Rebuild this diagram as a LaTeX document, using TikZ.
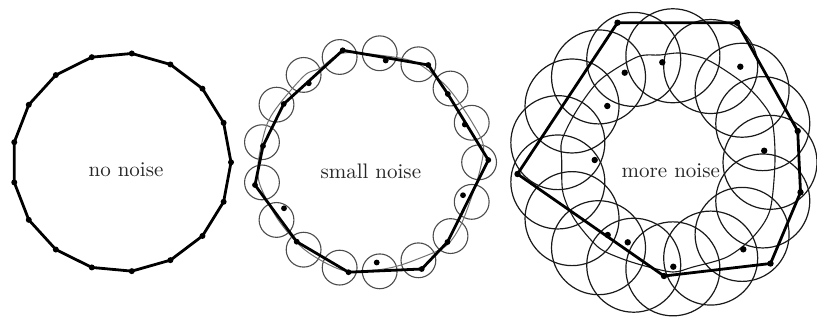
\documentclass[tikz,border=0pt]{standalone}
\usepackage{tikz}
\usetikzlibrary{calc}
\tikzset{
  % Sample polygon (hull) and the sample points.
  hull/.style={draw=black, line width=1.4pt, line join=round},
  sample/.style={fill=black},
  % Balls around the true points.
  ball-small/.style={draw=black!70, line width=0.55pt},
  ball-big/.style={draw=black!90, line width=0.6pt},
  % Underlying curve.
  truecurve/.style={draw=black!55, line width=0.5pt},
  truecurve-dark/.style={draw=black!90, line width=0.55pt},
  panel-label/.style={font=\fontsize{10.5}{12}\selectfont, text=black!85},
}

\begin{document}
\begin{tikzpicture}[x=0.5pt, y=-0.5pt]
  \useasboundingbox (0,0) rectangle (817,322);

  % --- no noise: regular 17-gon
  \foreach \k [evaluate=\k as \ang using 360*(\k-1)/17] in {1,...,17}
    \coordinate (a\k) at ([shift={(121.7,162.3)}]\ang:109.3);
  \draw[hull] (a1) \foreach \k in {2,...,17}{ -- (a\k)} -- cycle;
  \foreach \k in {1,...,17}
    \fill[sample] (a\k) circle (1.5pt);
  \node[panel-label] (lblA) at (126,170) {no noise};

  % --- small noise
  \foreach \k [evaluate=\k as \ang using 360*(\k-1)/17] in {1,...,17}
    \draw[ball-small] ([shift={(369.6,162.3)}]\ang:109.5) circle (8.7pt);
  \draw[truecurve] plot[smooth cycle] coordinates {
    (258.3,161.7) (266.7,125) (280,103.3) (305,75) (320,68.3) (341.7,53.3)
    (378.3,55) (415,62) (441.7,81.7) (455,96.7) (471.7,121.7) (483.3,145)
    (480,170) (471.7,196.7) (460,226.7) (445,246.7) (415,260) (395,266.7)
    (375,270) (341.7,270) (305,250) (278.3,220) (260,185)};
  \foreach \x/\y [count=\k] in {342.7/50.3, 385.7/60.5, 428.3/65, 447.8/94,
      464.8/124.5, 488.3/160, 463/195.2, 447.5/242, 421.7/269, 376.7/262.5,
      348.5/272.2, 296.7/241.7, 284/208.3, 255/185, 263/146, 283.7/104,
      308.8/83.3}
    \coordinate (s\k) at (\x,\y);
  \draw[hull] (s1) -- (s3) -- (s4) -- (s6) -- (s8) -- (s9) -- (s11)
    -- (s12) -- (s14) -- (s15) -- (s16) -- cycle;
  \foreach \k in {1,...,17}
    \fill[sample] (s\k) circle (1.45pt);
  \node[panel-label] (lblB) at (370.8,171) {small noise};

  % --- more noise
  \foreach \k [evaluate=\k as \ang using 360*(\k-1)/17] in {1,...,17}
    \draw[ball-big] ([shift={(663,162.3)}]\ang:107) circle (23.5pt);
  \draw[truecurve-dark] plot[smooth cycle] coordinates {
    (561.7,160) (563,193) (575,220) (598,247) (620,258) (645,266) (673,272)
    (693,267) (727,257) (753,237) (770,210) (775,160) (772,120) (760,100)
    (743,83) (720,67) (703,58) (680,53) (660,55) (637,57) (600,80)
    (577,110) (562,140)};
  \foreach \x/\y [count=\k] in {617.5/22.7, 662.3/62.3, 737/22.7, 740.3/66.7,
      797.7/131, 764.2/150.7, 800.5/192.3, 770.5/263.5, 743.3/249.3,
      673.3/266.7, 664/276, 627.7/242.3, 607.7/235, 517.5/174, 594.7/160,
      607.3/106, 624.7/72.7}
    \coordinate (m\k) at (\x,\y);
  \draw[hull] (m1) -- (m3) -- (m5) -- (m7) -- (m8) -- (m11) -- (m14) -- cycle;
  \foreach \k in {1,...,17}
    \fill[sample] (m\k) circle (1.6pt);
  \node[panel-label] (lblC) at (670.8,170.5) {more noise};

\end{tikzpicture}
\end{document}
